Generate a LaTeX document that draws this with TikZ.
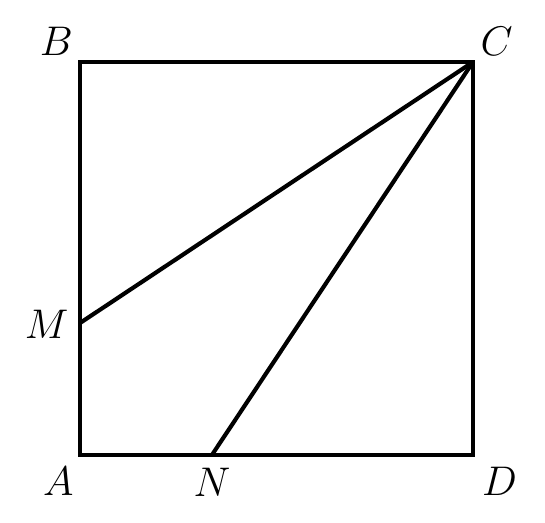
\documentclass[tikz,border=0pt]{standalone}
\usepackage{tikz}
\usetikzlibrary{calc}
\tikzset{
  edge/.style={line width=1.2pt, line join=miter},
  ptlabel/.style={font=\large, inner sep=0pt},
}

\begin{document}
\begin{tikzpicture}
  \useasboundingbox (-0.814,-0.692) rectangle (4.733,4.631);
  \coordinate (A) at (0,0);
  \coordinate (B) at (0,4);
  \coordinate (C) at (4,4);
  \coordinate (D) at (4,0);
  \coordinate (M) at (0,1.343);
  \coordinate (N) at (1.343,0);

  \draw[edge] (A) -- (B) -- (C) -- (D) -- cycle;
  \draw[edge] (M) -- (C);
  \draw[edge] (N) -- (C);

  \node[ptlabel] (labA) at ($(A)+(-0.22,-0.27)$) {$A$};
  \node[ptlabel] (labB) at ($(B)+(-0.24,0.21)$) {$B$};
  \node[ptlabel] (labC) at ($(C)+(0.24,0.21)$) {$C$};
  \node[ptlabel] (labD) at ($(D)+(0.27,-0.27)$) {$D$};
  \node[ptlabel] (labM) at ($(M)+(-0.34,-0.01)$) {$M$};
  \node[ptlabel] (labN) at ($(N)+(0,-0.28)$) {$N$};
\end{tikzpicture}
\end{document}
